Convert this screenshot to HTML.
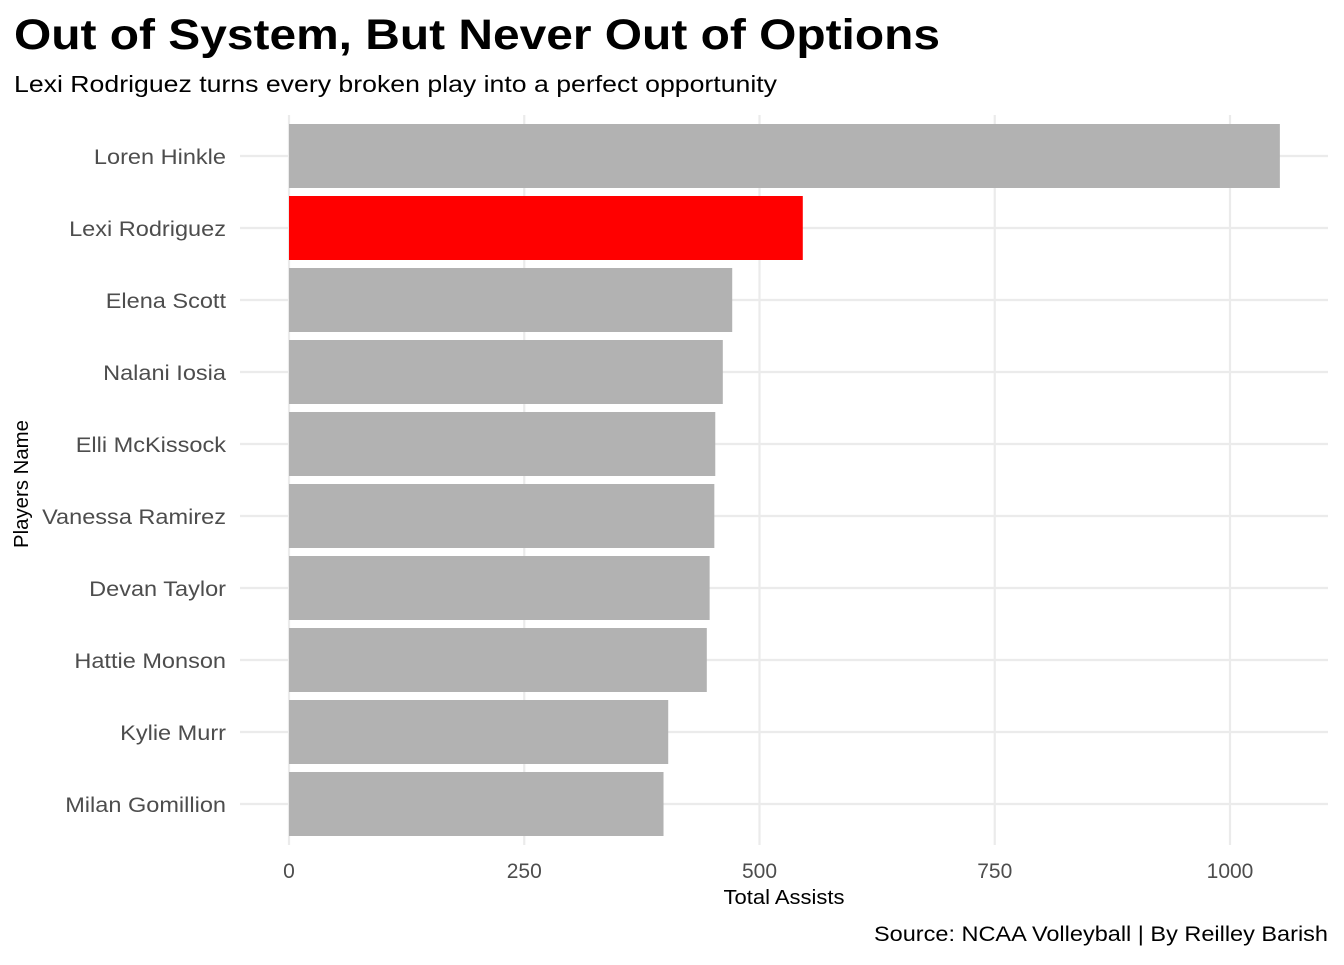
<!DOCTYPE html>
<html><head><meta charset="utf-8"><style>
body{margin:0;background:#fff;font-family:"Liberation Sans",Arial,sans-serif}
svg text{font-family:"Liberation Sans",Arial,sans-serif}
</style></head><body>
<svg id="chart" width="1344" height="960" xmlns="http://www.w3.org/2000/svg">
<rect width="1344" height="960" fill="#fff"/>
<text x="14" y="49" font-size="43" font-weight="bold" fill="#000" textLength="926" lengthAdjust="spacingAndGlyphs">Out of System, But Never Out of Options</text>
<text x="14" y="92" font-size="23" fill="#000" textLength="763" lengthAdjust="spacingAndGlyphs">Lexi Rodriguez turns every broken play into a perfect opportunity</text>
<g id="grid"></g><g id="bars"></g><g id="ylabels"></g><g id="xlabels"></g>
<text x="784" y="904" font-size="20" text-anchor="middle" fill="#000" textLength="121" lengthAdjust="spacingAndGlyphs">Total Assists</text>
<text transform="translate(28,484) rotate(-90)" font-size="20" text-anchor="middle" fill="#000" textLength="128" lengthAdjust="spacingAndGlyphs">Players Name</text>
<text x="1328" y="941" font-size="21" text-anchor="end" fill="#000" textLength="454" lengthAdjust="spacingAndGlyphs">Source: NCAA Volleyball | By Reilley Barish</text>
</svg>
<script>
const players=["Loren Hinkle","Lexi Rodriguez","Elena Scott","Nalani Iosia","Elli McKissock","Vanessa Ramirez","Devan Taylor","Hattie Monson","Kylie Murr","Milan Gomillion"];
const assists=[1053,546,471,461,453,452,447,444,403,398];
const highlight=["Lexi Rodriguez"];
const xTicks=[0,250,500,750,1000];
const NS="http://www.w3.org/2000/svg";
const x0=289,xs=0.941,y0=156,step=72,bh=64;
const xp=v=>x0+v*xs, yp=i=>y0+i*step;
function mk(t,a,p){const e=document.createElementNS(NS,t);for(const k in a)e.setAttribute(k,a[k]);p.appendChild(e);return e;}
const grid=document.getElementById('grid'),bars=document.getElementById('bars'),yl=document.getElementById('ylabels'),xl=document.getElementById('xlabels');
xTicks.forEach(t=>{
 const l=mk('line',{x1:xp(t),x2:xp(t),y1:115,y2:845,stroke:'#ebebeb','stroke-width':2.2},grid);
 
 
 const tx=mk('text',{x:xp(t),y:878,'font-size':21,'text-anchor':'middle',fill:'#4d4d4d'},xl);tx.textContent=t;
 
 
});
players.forEach((p,i)=>{
 const l=mk('line',{x1:240,x2:1328,y1:yp(i),y2:yp(i),stroke:'#ebebeb','stroke-width':2.2},grid);
 
 
 const r=mk('rect',{x:xp(0),y:yp(i)-bh/2,width:xp(assists[i])-xp(0),height:bh,fill:highlight.includes(p)?'#ff0000':'#b2b2b2'},bars);
 
 
 const tx=mk('text',{x:226,y:yp(i)+8,'font-size':21,'text-anchor':'end',fill:'#4d4d4d'},yl);tx.textContent=p;
 
 
 const w=tx.getComputedTextLength();tx.setAttribute('textLength',w*1.12);tx.setAttribute('lengthAdjust','spacingAndGlyphs');
});
</script>
</body></html>
